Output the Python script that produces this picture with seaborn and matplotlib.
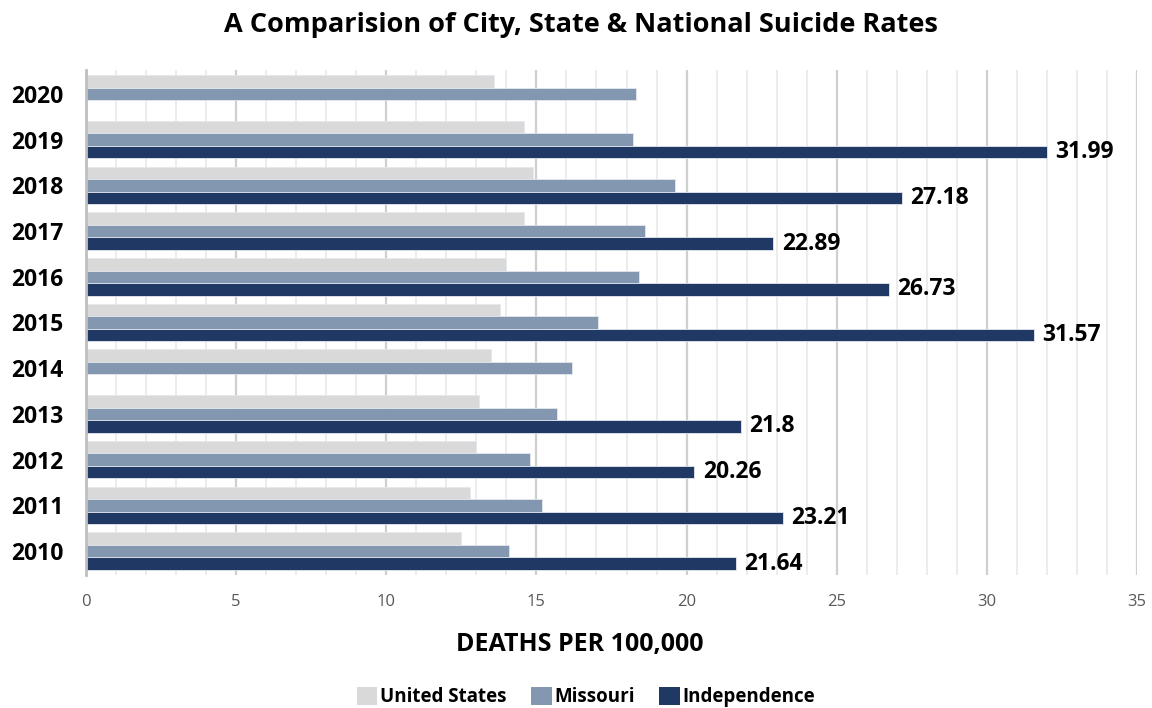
import numpy as np
import pandas as pd
import matplotlib
matplotlib.use("Agg")
import matplotlib.pyplot as plt
from matplotlib.patches import Patch
from matplotlib.ticker import MultipleLocator, FixedLocator
import seaborn as sns

years = ["2020", "2019", "2018", "2017", "2016", "2015", "2014", "2013", "2012", "2011", "2010"]
united_states = [13.6, 14.6, 14.9, 14.6, 14.0, 13.8, 13.5, 13.1, 13.0, 12.8, 12.5]
missouri = [18.3, 18.2, 19.6, 18.6, 18.4, 17.05, 16.2, 15.7, 14.8, 15.2, 14.1]
independence = [np.nan, 31.99, 27.18, 22.89, 26.73, 31.57, np.nan, 21.8, 20.26, 23.21, 21.64]

series_names = ["United States", "Missouri", "Independence"]
series_colors = ["#d9d9d9", "#8497b0", "#203864"]

df = pd.DataFrame({
    "Year": years * 3,
    "Series": np.repeat(series_names, len(years)),
    "Rate": united_states + missouri + independence,
})

sns.set_theme(style="white")
plt.rcParams["font.family"] = ["Open Sans", "DejaVu Sans"]
plt.rcParams["text.color"] = "black"
plt.rcParams["axes.labelcolor"] = "black"
plt.rcParams["ytick.color"] = "black"

fig = plt.figure(figsize=(11.52, 7.08), dpi=100)
ax = fig.add_axes([86 / 1152, 1 - 575 / 708, (1137 - 86) / 1152, (575 - 70) / 708])

sns.barplot(data=df, y="Year", x="Rate", hue="Series", order=years,
            hue_order=series_names, palette=series_colors, orient="h",
            width=0.82, saturation=1, errorbar=None, legend=False, ax=ax,
            linewidth=0.6, edgecolor="#e4e8ee")

ax.set_xlim(0, 35)
ax.set_ylim(10.52, -0.52)

# grid: major every 5, minor every 1
ax.xaxis.set_major_locator(MultipleLocator(5))
ax.xaxis.set_minor_locator(MultipleLocator(1))
ax.grid(axis="x", which="major", color="#cfcfcf", linewidth=1.6, zorder=0)
ax.grid(axis="x", which="minor", color="#ececec", linewidth=1.4, zorder=0)
ax.set_axisbelow(True)

for s in ["top", "right", "bottom"]:
    ax.spines[s].set_visible(False)
ax.spines["left"].set_color("#bfbfbf")
ax.spines["left"].set_linewidth(2)

ax.tick_params(axis="x", which="both", length=0, labelsize=12, labelcolor="#595959", pad=14)
ax.yaxis.set_minor_locator(FixedLocator(np.arange(-0.5, 11, 1.0)))
ax.tick_params(axis="y", which="major", length=0, labelsize=16.5, pad=16)
ax.tick_params(axis="y", which="minor", direction="inout", length=11, width=2, color="#bfbfbf")
for lbl in ax.get_yticklabels():
    lbl.set_fontweight("bold")

ax.set_ylabel("")
ax.set_xlabel("DEATHS PER 100,000", fontsize=18, fontweight="bold")
ax.xaxis.set_label_coords((580 - 86) / (1137 - 86), -(645 - 575) / (575 - 70))
ax.xaxis.label.set_va("center")

# value labels on the Independence bars
ind_container = ax.containers[2]
ax.bar_label(ind_container, labels=[f"{v:g}" for v in independence if not np.isnan(v)],
             padding=6, fontsize=16.5, fontweight="bold", color="black")

fig.suptitle("A Comparision of City, State & National Suicide Rates",
             fontsize=19.5, fontweight="bold", y=1 - 25 / 708, va="center", x=581 / 1152)

handles = [Patch(facecolor=c, edgecolor="none") for c in series_colors]
fig.legend(handles, series_names, loc="center", bbox_to_anchor=(586 / 1152, 1 - 697 / 708),
           ncol=3, frameon=False, prop={"weight": "bold", "size": 13.5},
           handlelength=1.1, handleheight=1.1, handletextpad=0.15, columnspacing=1.3)

fig.savefig("out.png", dpi=100)
